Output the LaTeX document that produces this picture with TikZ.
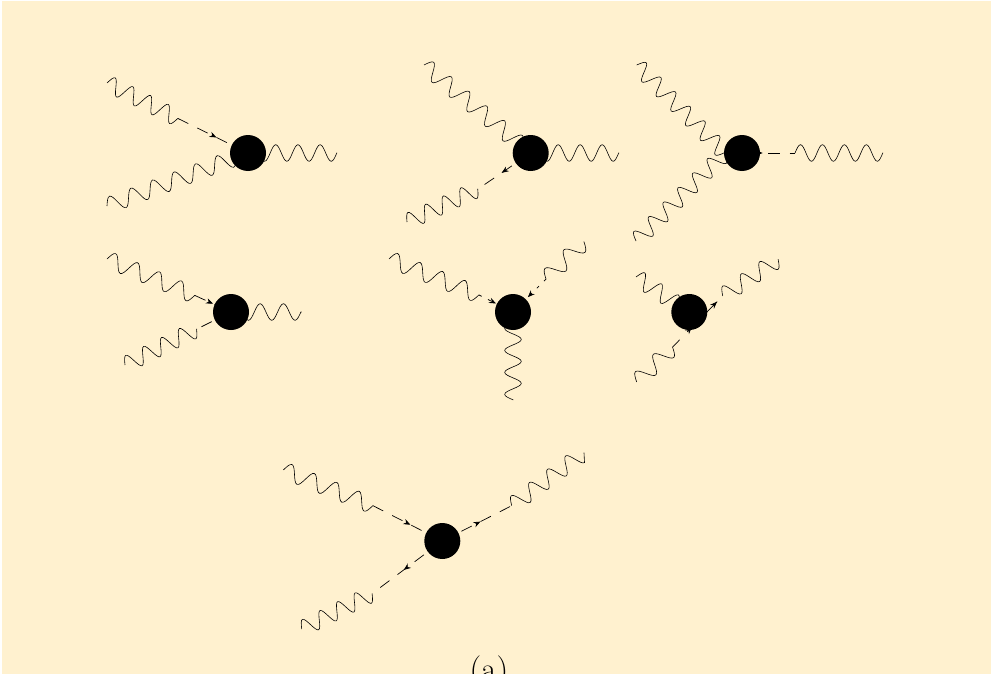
\documentclass[tikz,border=0pt]{standalone}
\usepackage{xcolor}
\usetikzlibrary{arrows.meta,positioning,decorations.pathmorphing,decorations.markings,backgrounds}
\definecolor{paper}{HTML}{FFF1CF}
\pgfdeclaredecoration{sinewave}{rise}{
    \state{rise}[switch if less than=+.25\pgfdecorationsegmentlength to final,width=+.25\pgfdecorationsegmentlength,next state=fall]
        {\pgfpathsine{\pgfpoint{.25\pgfdecorationsegmentlength}{\pgfdecorationsegmentamplitude}}}
    \state{fall}[switch if less than=+.25\pgfdecorationsegmentlength to final,width=+.25\pgfdecorationsegmentlength,next state=dip]
        {\pgfpathcosine{\pgfpoint{.25\pgfdecorationsegmentlength}{-\pgfdecorationsegmentamplitude}}}
    \state{dip}[switch if less than=+.25\pgfdecorationsegmentlength to final,width=+.25\pgfdecorationsegmentlength,next state=back]
        {\pgfpathsine{\pgfpoint{.25\pgfdecorationsegmentlength}{-\pgfdecorationsegmentamplitude}}}
    \state{back}[switch if less than=+.25\pgfdecorationsegmentlength to final,width=+.25\pgfdecorationsegmentlength,next state=rise]
        {\pgfpathcosine{\pgfpoint{.25\pgfdecorationsegmentlength}{\pgfdecorationsegmentamplitude}}}
    \state{final}{\pgfpathlineto{\pgfpointdecoratedpathlast}}
}
\tikzset{
    vertex/.style={circle,fill=black,minimum size=36pt,inner sep=0pt},
    wave/.style={line width=0.6pt,decorate,decoration={sinewave,segment length=#1pt,amplitude=8.3pt}},
    scalarline/.style={line width=0.7pt,dash pattern=on 11.5pt off 10pt},
    scalar/.style={scalarline,
        postaction={decorate,decoration={markings,mark=at position #1 with {\arrow{Stealth[length=7pt,width=5.5pt]}}}}},
    scalarback/.style={scalarline,
        postaction={decorate,decoration={markings,mark=at position #1 with {\arrowreversed{Stealth[length=7pt,width=5.5pt]}}}}},
}
\begin{document}
\begin{tikzpicture}[x=1pt,y=-1pt]
    \useasboundingbox (0,0) rectangle (991,677);

    % Top row vertices
    \node[vertex] (va) at (248,153) {};
    \node[vertex] (vb) at (530.7,153) {};
    \node[vertex] (vc) at (742,153) {};

    % Middle row vertices
    \node[vertex] (vd) at (231,312) {};
    \node[vertex] (ve) at (513,312) {};
    \node[vertex] (vf) at (689.3,312) {};

    % Bottom vertex
    \node[vertex] (vg) at (442.3,541) {};

    % Free ends of the legs
    \coordinate (a1) at (107,83);
    \coordinate (a2) at (178,118.5);
    \coordinate (a3) at (107,206);
    \coordinate (a4) at (337,153);
    \coordinate (b1) at (424,65);
    \coordinate (b2) at (407,222);
    \coordinate (b3) at (478,189);
    \coordinate (b4) at (619,153);
    \coordinate (c1) at (636.7,65);
    \coordinate (c2) at (636,241);
    \coordinate (c3) at (795,153);
    \coordinate (c4) at (883,153);
    \coordinate (c5) at (725,153);
    \coordinate (d1) at (107,259);
    \coordinate (d2) at (195,295.5);
    \coordinate (d3) at (125,365);
    \coordinate (d4) at (197,329);
    \coordinate (d5) at (301.7,312);
    \coordinate (e1) at (389,259);
    \coordinate (e2) at (479,295);
    \coordinate (e3) at (546,279);
    \coordinate (e4) at (584,241.7);
    \coordinate (e5) at (513,400);
    \coordinate (f1) at (636,277);
    \coordinate (f2) at (722.7,296);
    \coordinate (f3) at (778.3,259.3);
    \coordinate (f4) at (636.7,382);
    \coordinate (f5) at (672.7,347);
    \coordinate (f6) at (689,330);
    \coordinate (f7) at (692,327);
    \coordinate (g1) at (283.3,470);
    \coordinate (g2) at (373,505.7);
    \coordinate (g3) at (301.7,629);
    \coordinate (g4) at (372.3,593.5);
    \coordinate (g5) at (511.7,505.7);
    \coordinate (g6) at (584,452.7);

    \begin{scope}[on background layer]
        \fill[paper] (2,1) rectangle (991,673.5);

        % Top left
        \draw[wave=19.8] (a1) -- (a2);
        \draw[scalar=0.55] (a2) -- (va.center);
        \draw[wave=23] (a3) -- (va.center);
        \draw[wave=22.2] (va.center) -- (a4);

        % Top middle
        \draw[wave=23] (b1) -- (vb.center);
        \draw[wave=19.5] (b2) -- (b3);
        \draw[scalarback=0.45,dash phase=13.5pt] (b3) -- (vb.center);
        \draw[wave=22] (vb.center) -- (b4);

        % Top right
        \draw[wave=20.7] (c1) -- (c5);
        \draw[wave=20.7] (c2) -- (c5);
        \draw[scalar=0.39,dash phase=17pt] (vc.center) -- (c3);
        \draw[wave=21.95] (c3) -- (c4);

        % Middle left
        \draw[wave=23.75] (d1) -- (d2);
        \draw[scalar=0.5] (d2) -- (vd.center);
        \draw[wave=20] (d3) -- (d4);
        \draw[scalarline,dash phase=16.5pt] (d4) -- (vd.center);
        \draw[wave=23.3] (vd.center) -- (d5);

        % Middle centre
        \draw[wave=24.2] (e1) -- (e2);
        \draw[scalar=0.5,dash pattern=on 3pt off 7pt] (e2) -- (ve.center);
        \draw[wave=26.6] (e3) -- (e4);
        \draw[scalar=0.55,dash pattern=on 3pt off 7pt] (e3) -- (ve.center);
        \draw[wave=21.95] (ve.center) -- (e5);

        % Middle right
        \draw[wave=20.2] (f1) -- (vf.center);
        \draw[scalar=0.83,dash pattern=on 40pt off 10pt] (f6) -- (f2);
        \draw[wave=22.15] (f2) -- (f3);
        \draw[wave=25] (f4) -- (f5);
        \draw[scalar=0.99,dash pattern=on 10pt off 11pt] (f5) -- (f7);

        % Bottom
        \draw[wave=24.1] (g1) -- (g2);
        \draw[scalar=0.54] (g2) -- (vg.center);
        \draw[wave=19.7] (g3) -- (g4);
        \draw[scalarback=0.45,dash phase=11.5pt] (g4) -- (vg.center);
        \draw[scalar=0.55] (vg.center) -- (g5);
        \draw[wave=22.45] (g5) -- (g6);
    \end{scope}

    % Caption, cut off at the lower edge
    \begin{scope}
        \clip (2,1) rectangle (991,673.5);
        \node[font=\fontsize{33}{33}\selectfont,anchor=base] (caption) at (489,680) {(a)};
    \end{scope}
\end{tikzpicture}
\end{document}
